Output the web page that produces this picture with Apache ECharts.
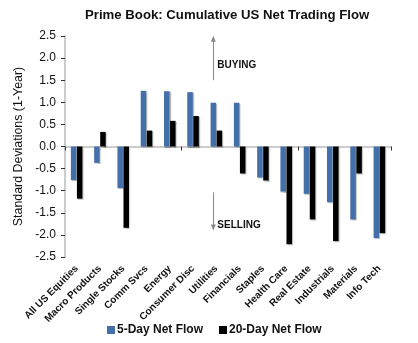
<!DOCTYPE html>
<html>
<head>
<meta charset="utf-8">
<script src="https://cdn.jsdelivr.net/npm/echarts@6/dist/echarts.min.js"></script>
<style>
  html, body { margin: 0; padding: 0; background: #fff; }
  #chart { width: 418px; height: 343px; }
</style>
</head>
<body>
<div id="chart"></div>
<script>
// Sector flow categories
const categories = [
  'All US Equities', 'Macro Products', 'Single Stocks', 'Comm Svcs', 'Energy',
  'Consumer Disc', 'Utilities', 'Financials', 'Staples', 'Health Care',
  'Real Estate', 'Industrials', 'Materials', 'Info Tech'
];

// Net trading flow, in standard deviations over one year
const flow5Day = [-0.76, -0.37, -0.94, 1.26, 1.25, 1.23, 0.99, 0.99, -0.70, -1.02, -1.07, -1.26, -1.65, -2.07];
const flow20Day = [-1.18, 0.33, -1.84, 0.36, 0.58, 0.69, 0.36, -0.61, -0.77, -2.21, -1.65, -2.14, -0.61, -1.96];

const seriesNames = ['5-Day Net Flow', '20-Day Net Flow'];
const yTicks = { min: -2.5, max: 2.5, step: 0.5 };

const FONT = 'Liberation Sans, Arial, sans-serif';
const BLUE = '#4470AA';
const BLACK = '#000000';

const chart = echarts.init(document.getElementById('chart'), null, { renderer: 'canvas' });

const barStyle = (color) => ({
  color: color,
  shadowColor: 'rgba(0,0,0,0.28)',
  shadowOffsetX: 1,
  shadowOffsetY: 1,
  shadowBlur: 1
});

chart.setOption({
  animation: false,
  backgroundColor: '#fff',
  graphic: [{
    type: 'text',
    left: 228 - 143,
    top: 9,
    style: {
      text: 'Prime Book: Cumulative US Net Trading Flow',
      font: 'bold 13.2px ' + FONT,
      fill: '#111'
    }
  }],
  legend: {
    data: seriesNames,
    left: 107,
    top: 324,
    padding: 0,
    icon: 'rect',
    itemWidth: 8,
    itemHeight: 8,
    itemGap: 16,
    textStyle: { fontFamily: FONT, fontSize: 12, fontWeight: 'bold', color: '#111', padding: [0, 0, 0, -3] }
  },
  grid: { left: 65, right: 27, top: 36, bottom: 86, containLabel: false },
  xAxis: [
    {
      type: 'category',
      data: categories,
      position: 'bottom',
      axisLine: { onZero: true, lineStyle: { color: '#cccccc', width: 2 } },
      axisTick: { show: true, length: 4, lineStyle: { color: '#333', width: 1 } },
      axisLabel: { show: false },
      splitLine: { show: false }
    },
    {
      type: 'category',
      data: categories,
      position: 'bottom',
      axisLine: { show: false, onZero: false },
      axisTick: { show: false },
      axisLabel: {
        interval: 0,
        rotate: 45,
        margin: 10,
        fontFamily: FONT,
        fontSize: 10,
        fontWeight: 'bold',
        color: '#111'
      },
      splitLine: { show: false }
    }
  ],
  yAxis: {
    type: 'value',
    min: yTicks.min,
    max: yTicks.max,
    interval: yTicks.step,
    name: 'Standard Deviations (1-Year)',
    nameLocation: 'middle',
    nameGap: 35,
    nameTextStyle: { fontFamily: FONT, fontSize: 12.4, color: '#111' },
    axisLine: { show: true, lineStyle: { color: '#cccccc', width: 2 } },
    axisTick: { show: true, length: 4, lineStyle: { color: '#333', width: 1 } },
    axisLabel: {
      fontFamily: FONT,
      fontSize: 12,
      color: '#111',
      margin: 9,
      formatter: (v) => v.toFixed(1)
    },
    splitLine: { show: false }
  },
  series: [
    {
      name: seriesNames[0],
      type: 'bar',
      xAxisIndex: 0,
      data: flow5Day,
      barWidth: 5.5,
      barGap: '10%',
      itemStyle: barStyle(BLUE),
      markLine: {
        silent: true,
        animation: false,
        lineStyle: { color: '#888', width: 1, type: 'solid' },
        label: { show: false },
        data: [
          [
            { coord: ['Utilities', 2.44], symbol: 'triangle', symbolSize: [5, 6] },
            { coord: ['Utilities', 1.5], symbol: 'none' }
          ],
          [
            { coord: ['Utilities', -1.04], symbol: 'none' },
            { coord: ['Utilities', -1.83], symbol: 'triangle', symbolSize: [5, 6] }
          ]
        ]
      },
      markPoint: {
        silent: true,
        symbol: 'rect',
        symbolSize: 0,
        label: {
          show: true,
          position: 'right',
          distance: 4,
          fontFamily: FONT,
          fontSize: 10,
          fontWeight: 'bold',
          color: '#111'
        },
        data: [
          { coord: ['Utilities', 1.83], value: 'BUYING' },
          { coord: ['Utilities', -1.78], value: 'SELLING' }
        ]
      }
    },
    {
      name: seriesNames[1],
      type: 'bar',
      xAxisIndex: 0,
      data: flow20Day,
      barWidth: 5.5,
      barGap: '10%',
      itemStyle: barStyle(BLACK)
    }
  ]
});
</script>
</body>
</html>
